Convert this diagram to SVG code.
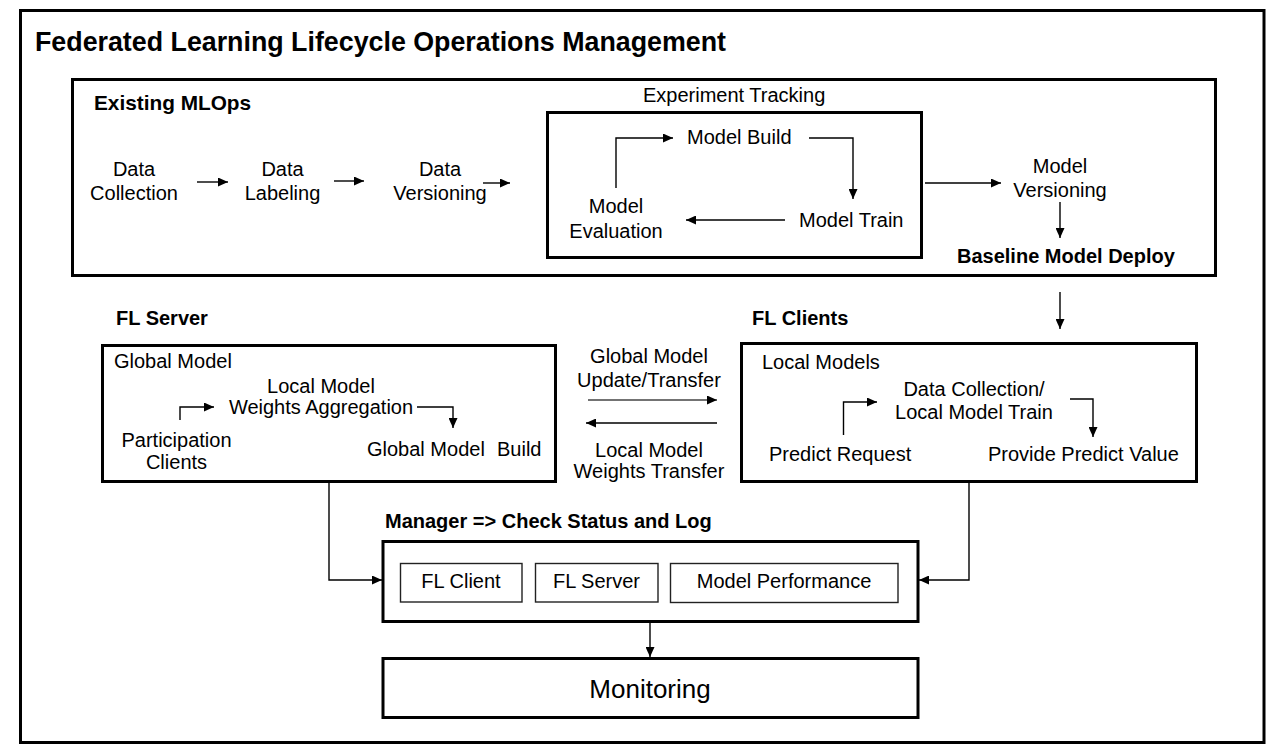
<svg xmlns="http://www.w3.org/2000/svg" width="1280" height="746" viewBox="0 0 1280 746">
<defs>
<style>
text{font-family:"Liberation Sans",Arial,sans-serif;font-size:20px;fill:#000}
.b{font-weight:bold}
.c{text-anchor:middle}
.box{fill:none;stroke:#000;stroke-width:3}
.ibox{fill:#fff;stroke:#222;stroke-width:1.4}
.ln{fill:none;stroke:#000;stroke-width:1.4}
.g{stroke:#444}
</style>
<marker id="ah" markerUnits="userSpaceOnUse" markerWidth="11" markerHeight="9" refX="10" refY="4.5" orient="auto">
<path d="M0,0 L10,4.5 L0,9 z" fill="#000"/>
</marker>
</defs>
<rect width="1280" height="746" fill="#fff"/>
<g id="frame">
<rect class="box" x="20.5" y="10.5" width="1243.5" height="732"/>
<text class="b" x="35" y="51" style="font-size:26.8px">Federated Learning Lifecycle Operations Management</text>
</g>
<g id="existing-mlops">
<rect class="box" x="72.5" y="79.5" width="1143" height="196"/>
<text class="b" x="94" y="110" style="font-size:20.8px">Existing MLOps</text>
</g>
<g id="data-collection"><text class="c" x="134" y="176">Data</text><text class="c" x="134" y="200">Collection</text></g>
<g id="data-labeling"><text class="c" x="282.5" y="176">Data</text><text class="c" x="282.5" y="200">Labeling</text></g>
<g id="data-versioning"><text class="c" x="440" y="176">Data</text><text class="c" x="440" y="200">Versioning</text></g>
<g id="experiment-tracking">
<text x="643" y="102">Experiment Tracking</text>
<rect class="box" x="547.5" y="112.5" width="374" height="145"/>
</g>
<g id="model-build"><text x="687" y="144">Model Build</text></g>
<g id="model-train"><text x="799" y="227">Model Train</text></g>
<g id="model-evaluation"><text class="c" x="616" y="213">Model</text><text class="c" x="616" y="238">Evaluation</text></g>
<g id="model-versioning"><text class="c" x="1060" y="173">Model</text><text class="c" x="1060" y="197">Versioning</text></g>
<g id="baseline-deploy"><text class="b" x="957" y="263">Baseline Model Deploy</text></g>
<g id="fl-server">
<text class="b" x="116" y="325">FL Server</text>
<rect class="box" x="102.5" y="345.5" width="453" height="136"/>
<text x="114" y="368">Global Model</text>
</g>
<g id="local-weights-aggregation"><text class="c" x="321" y="393">Local Model</text><text class="c" x="321" y="414">Weights Aggregation</text></g>
<g id="participation-clients"><text class="c" x="176.5" y="447">Participation</text><text class="c" x="176.5" y="469">Clients</text></g>
<g id="global-model-build"><text y="456"><tspan x="367">Global Model</tspan><tspan x="497">Build</tspan></text></g>
<g id="transfer-labels">
<text class="c" x="649" y="363">Global Model</text><text class="c" x="649" y="387">Update/Transfer</text>
<text class="c" x="649" y="457">Local Model</text><text class="c" x="649" y="478">Weights Transfer</text>
</g>
<g id="fl-clients">
<text class="b" x="752" y="325">FL Clients</text>
<rect class="box" x="741.5" y="343.5" width="455" height="138"/>
<text x="762" y="369">Local Models</text>
</g>
<g id="local-train"><text class="c" x="974" y="396">Data Collection/</text><text class="c" x="974" y="419">Local Model Train</text></g>
<g id="predict-request"><text x="769" y="461">Predict Request</text></g>
<g id="predict-value"><text x="988" y="461">Provide Predict Value</text></g>
<g id="manager">
<text class="b" x="385" y="528">Manager =&gt; Check Status and Log</text>
<rect class="box" x="383" y="541.5" width="535" height="80"/>
</g>
<g id="m-fl-client"><rect class="ibox" x="400.5" y="563.5" width="121.5" height="38.5"/><text class="c" x="461" y="588">FL Client</text></g>
<g id="m-fl-server"><rect class="ibox" x="535.5" y="563.5" width="122.5" height="38.5"/><text class="c" x="596.5" y="588">FL Server</text></g>
<g id="m-model-perf"><rect class="ibox" x="670.5" y="563.5" width="227.5" height="39"/><text class="c" x="784" y="588">Model Performance</text></g>
<g id="monitoring">
<rect class="box" x="383" y="658.5" width="535" height="59"/>
<text class="c" x="650" y="698" style="font-size:26px">Monitoring</text>
</g>
<g id="connectors">
<path class="ln" d="M197,182 H228" marker-end="url(#ah)"/>
<path class="ln" d="M334,181 H364" marker-end="url(#ah)"/>
<path class="ln" d="M483,183 H510" marker-end="url(#ah)"/>
<path class="ln" d="M616,188 V138 H673" marker-end="url(#ah)"/>
<path class="ln" d="M809,138 H853 V199" marker-end="url(#ah)"/>
<path class="ln" d="M785,220 H686" marker-end="url(#ah)"/>
<path class="ln" d="M925,183 H1001" marker-end="url(#ah)"/>
<path class="ln" d="M1060,202 V238" marker-end="url(#ah)"/>
<path class="ln" d="M1060,292 V329" marker-end="url(#ah)"/>
<path class="ln" d="M180,420 V407 H214" marker-end="url(#ah)"/>
<path class="ln" d="M417,407 H453 V428" marker-end="url(#ah)"/>
<path class="ln g" d="M588,400 H717" marker-end="url(#ah)"/>
<path class="ln" d="M717,423 H586" marker-end="url(#ah)"/>
<path class="ln" d="M843.5,435 V402 H877" marker-end="url(#ah)"/>
<path class="ln" d="M1070,399 H1093 V437" marker-end="url(#ah)"/>
<path class="ln" d="M329,482 V580 H382" marker-end="url(#ah)"/>
<path class="ln" d="M969,482 V580 H919" marker-end="url(#ah)"/>
<path class="ln" d="M650,622 V657" marker-end="url(#ah)"/>
</g>
</svg>
